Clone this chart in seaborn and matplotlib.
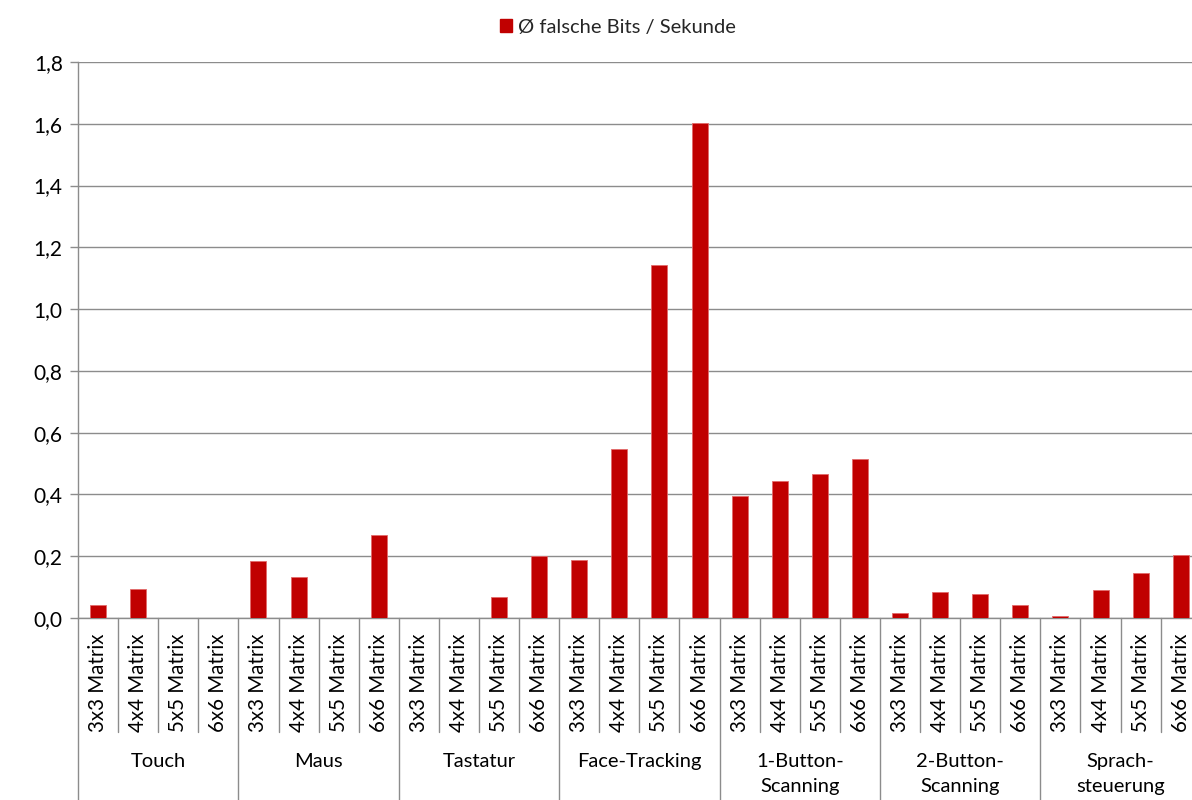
import matplotlib
matplotlib.use("Agg")
import matplotlib.pyplot as plt
from matplotlib.patches import Patch
from matplotlib.ticker import FuncFormatter, MultipleLocator
import matplotlib.transforms as mtransforms
import pandas as pd
import seaborn as sns

# Input methods (outer category) and matrix sizes (inner category)
groups = ["Touch", "Maus", "Tastatur", "Face-Tracking",
          "1-Button-\nScanning", "2-Button-\nScanning", "Sprach-\nsteuerung"]
matrices = ["3x3 Matrix", "4x4 Matrix", "5x5 Matrix", "6x6 Matrix"]

# Average wrong bits per second, one list per input method
touch = [0.042, 0.093, 0.0, 0.0]
maus = [0.186, 0.133, 0.0, 0.269]
tastatur = [0.0, 0.0, 0.068, 0.200]
face_tracking = [0.189, 0.548, 1.144, 1.604]
button1 = [0.396, 0.445, 0.467, 0.514]
button2 = [0.015, 0.083, 0.078, 0.041]
sprache = [0.006, 0.092, 0.145, 0.205]

series_name = "Ø falsche Bits / Sekunde"
values = [touch, maus, tastatur, face_tracking, button1, button2, sprache]

rows = []
for g, vals in zip(groups, values):
    for m, v in zip(matrices, vals):
        rows.append({"key": f"{g}|{m}", "gruppe": g, "matrix": m, "wert": v})
df = pd.DataFrame(rows)

sns.set_theme(style="white")
plt.rcParams["font.family"] = ["Lato", "DejaVu Sans"]

BAR = "#C00000"
GRID = "#8C8C8C"
FS = 14.5
FS_TICK = 15.0
FS_MATRIX = 14.8

fig = plt.figure(figsize=(11.92, 8.0), dpi=100)
W, H = 1192, 800
x0, x1 = 78, 78 + 28 * 40.1
y_top, y_zero = 62, 618
ax = fig.add_axes([x0 / W, 1 - y_zero / H, (x1 - x0) / W, (y_zero - y_top) / H])

sns.barplot(data=df, x="key", y="wert", order=df["key"].tolist(),
            color=BAR, width=0.4, saturation=1, edgecolor="#E26A6A",
            linewidth=0.6, ax=ax, zorder=3)

n = len(df)
ax.set_xlim(-0.5, n - 0.5)
ax.set_ylim(0, 1.8)
ax.yaxis.set_major_locator(MultipleLocator(0.2))
ax.yaxis.set_major_formatter(FuncFormatter(lambda v, _: f"{v:.1f}".replace(".", ",")))
ax.grid(axis="y", color=GRID, linewidth=1.0, zorder=0)
ax.set_axisbelow(True)
ax.set_xlabel("")
ax.set_ylabel("")
ax.set_xticks([])
ax.tick_params(axis="y", which="major", left=True, length=6, width=1.0,
               color=GRID, labelsize=FS_TICK, pad=5, labelcolor="black")
for s in ["top", "right"]:
    ax.spines[s].set_visible(False)
for s in ["left", "bottom"]:
    ax.spines[s].set_color(GRID)
    ax.spines[s].set_linewidth(1.0)

# Two-level category axis drawn below the plot area
px = (y_zero - y_top)  # axes height in pixels
trans = mtransforms.blended_transform_factory(ax.transData, ax.transAxes)

def ay(pix):
    return (y_zero - pix) / px

for i in range(n + 1):
    xb = i - 0.5
    if i % 4 == 0:
        ax.plot([xb, xb], [0, ay(H + 20)], transform=trans, color=GRID,
                lw=1.0, clip_on=False)
    else:
        ax.plot([xb, xb], [0, ay(732)], transform=trans, color=GRID,
                lw=1.0, clip_on=False)

for i, row in df.iterrows():
    ax.text(i, ay(633), row["matrix"], transform=trans, rotation=90,
            ha="center", va="top", fontsize=FS_MATRIX, color="black", clip_on=False)

for gi, g in enumerate(groups):
    ax.text(gi * 4 + 1.5, ay(753), g, transform=trans, ha="center", va="top",
            fontsize=FS, color="black", linespacing=1.55, clip_on=False)

handle = Patch(facecolor=BAR, edgecolor=BAR)
fig.legend([handle], [series_name], loc="center", bbox_to_anchor=(618 / W, 1 - 27 / H),
           frameon=False, fontsize=FS, handlelength=0.6, handleheight=0.6,
           handletextpad=0.3)

fig.savefig("out.png", dpi=100)
